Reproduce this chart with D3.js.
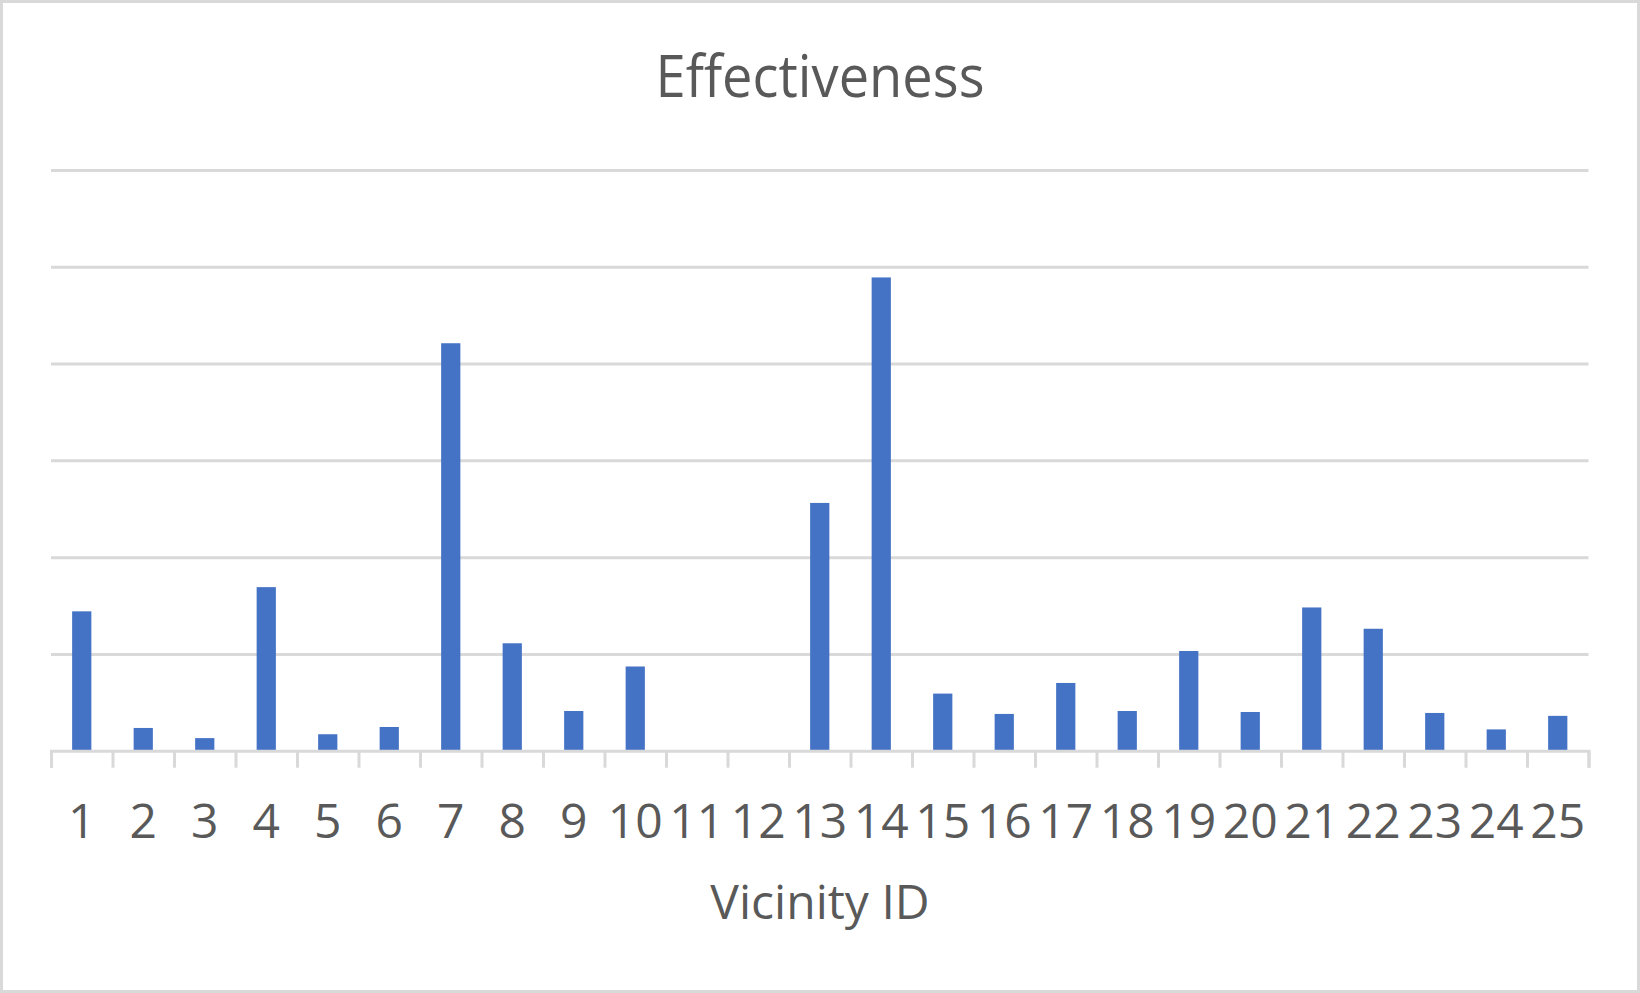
<!DOCTYPE html>
<html>
<head>
<meta charset="utf-8">
<script src="https://cdn.jsdelivr.net/npm/d3@7"></script>
<style>
  body { margin: 0; background: #fff; }
  text { font-family: "Open Sans", sans-serif; fill: #595959; }
</style>
</head>
<body>
<div id="chart"></div>
<script>
// vicinity ids and effectiveness values (in gridline units)
const vicinityIds = d3.range(1, 26).map(String);
const effectiveness = [
  1.44, 0.235, 0.13, 1.69, 0.17, 0.245, 4.21, 1.11, 0.41, 0.87,
  0, 0, 2.56, 4.89, 0.59, 0.38, 0.70, 0.41, 1.03, 0.40,
  1.48, 1.26, 0.39, 0.22, 0.36
];
const yTicks = [1, 2, 3, 4, 5, 6];

const width = 1640;
const height = 993;
const margin = { top: 170, right: 51.5, bottom: 242.3, left: 51 };
const innerW = width - margin.left - margin.right;
const innerH = height - margin.top - margin.bottom;

const svg = d3
  .select("#chart")
  .append("svg")
  .attr("width", width)
  .attr("height", height);

// chart border
svg
  .append("rect")
  .attr("x", 1.5)
  .attr("y", 1.5)
  .attr("width", width - 3)
  .attr("height", height - 3)
  .attr("fill", "#fff")
  .attr("stroke", "#d9d9d9")
  .attr("stroke-width", 3);

const g = svg
  .append("g")
  .attr("transform", `translate(${margin.left}, ${margin.top})`);

const xScale = d3.scaleBand().domain(vicinityIds).range([0, innerW]).padding(0);
const yScale = d3.scaleLinear().domain([0, 6]).range([innerH, 0]);

// gridlines
const grid = g
  .append("g")
  .call(d3.axisLeft(yScale).tickValues(yTicks).tickSize(-innerW).tickFormat(""));
grid.select(".domain").remove();
grid.selectAll("line").attr("stroke", "#d9d9d9").attr("stroke-width", 3);

// bars
const barW = xScale.bandwidth() / 3.2;
g.selectAll("rect.bar")
  .data(effectiveness)
  .enter()
  .append("rect")
  .attr("class", "bar")
  .attr("x", (d, i) => xScale(vicinityIds[i]) + (xScale.bandwidth() - barW) / 2)
  .attr("y", (d) => yScale(d))
  .attr("width", barW)
  .attr("height", (d) => innerH - yScale(d))
  .attr("fill", "#4472c4");

// axis line + tick marks between categories
const boundary = d3.scaleLinear().domain([0, vicinityIds.length]).range([0, innerW]);
const tickAxis = g
  .append("g")
  .attr("transform", `translate(0, ${innerH})`)
  .call(
    d3.axisBottom(boundary)
      .tickValues(d3.range(0, vicinityIds.length + 1))
      .tickSize(17)
      .tickFormat("")
  );
tickAxis.selectAll("line, path").attr("stroke", "#d9d9d9").attr("stroke-width", 3);

// category labels
const labelAxis = g
  .append("g")
  .attr("transform", `translate(0, ${innerH})`)
  .call(d3.axisBottom(xScale).tickSize(0).tickPadding(53));
labelAxis.select(".domain").remove();
labelAxis
  .selectAll("text")
  .attr("font-family", "Open Sans")
  .attr("font-size", 48)
  .attr("fill", "#595959");

// title
svg
  .append("text")
  .attr("x", width / 2)
  .attr("y", 97)
  .attr("text-anchor", "middle")
  .attr("font-size", 59)
  .attr("textLength", 329)
  .attr("lengthAdjust", "spacingAndGlyphs")
  .text("Effectiveness");

// x axis title
svg
  .append("text")
  .attr("x", width / 2)
  .attr("y", 919)
  .attr("text-anchor", "middle")
  .attr("font-size", 48)
  .text("Vicinity ID");
</script>
</body>
</html>
